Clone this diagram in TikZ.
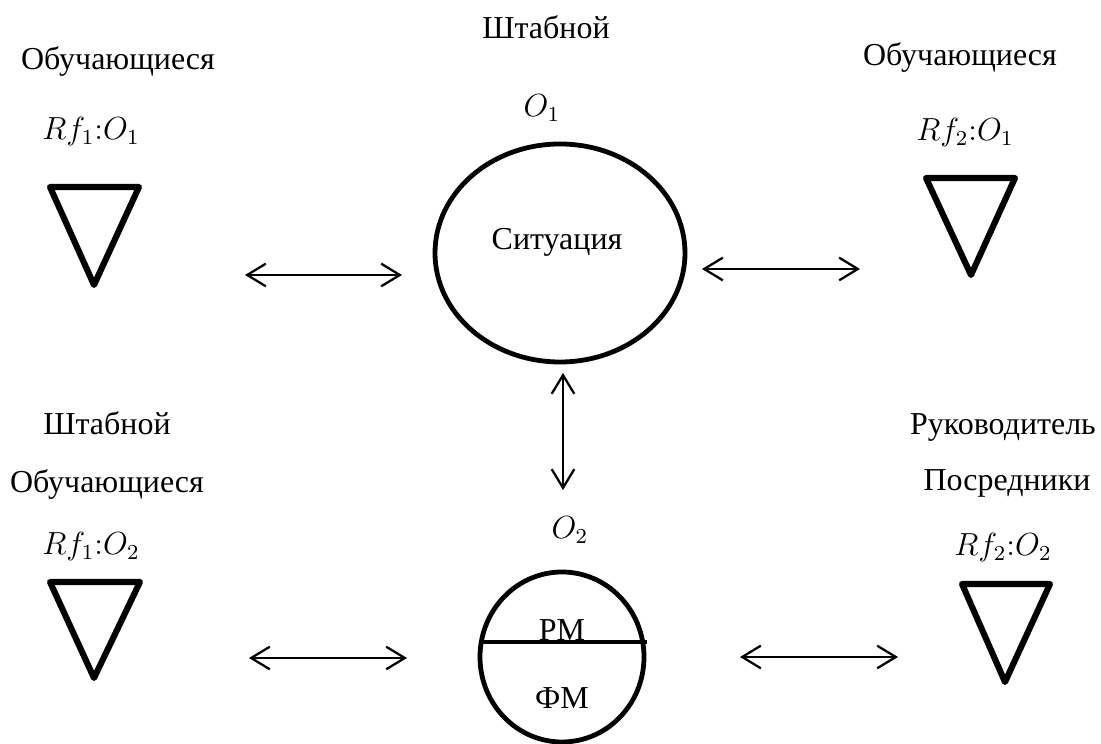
\documentclass[tikz,border=0pt]{standalone}
\usepackage{fontspec}
\setmainfont{Liberation Serif}
\usetikzlibrary{arrows.meta, positioning}
\tikzset{
    label_text/.style={inner sep=0pt, text centered, align=center, font=\fontsize{12}{14}\selectfont},
    math_text/.style={inner sep=0pt, text centered, font=\fontsize{11.5}{14}\selectfont},
    tri_mark/.style={line width=2.3pt, line join=round},
    sit_circle/.style={line width=1.8pt},
    split_line/.style={line width=1.3pt},
    arrow/.style={line width=0.85pt, {Straight Barb[length=7pt, width=8.5pt]}-{Straight Barb[length=7pt, width=8.5pt]}},
}

\begin{document}
\begin{tikzpicture}[x=0.0132cm, y=-0.0132cm]
      \useasboundingbox (0,0) rectangle (1101,744);
      %%%%%%%%%%%%%
      % SITUATION %
      %%%%%%%%%%%%%
      \node (staff_top) [label_text] at (546,27) {Штабной};
      \node (obj_1) [math_text] at (542,108) {$O_1$};
      \draw [sit_circle] (560,253) ellipse [x radius=125, y radius=109];
      \node (situation) [label_text] at (557,242) {Ситуация};

      %%%%%%%%%%%%%
      % MODELS    %
      %%%%%%%%%%%%%
      \node (obj_2) [math_text] at (570,530) {$O_2$};
      \draw [sit_circle] (562,657) ellipse [x radius=82, y radius=85];
      \coordinate (split_l) at (483,642);
      \coordinate (split_r) at (647,642);
      \draw [split_line] (split_l) -- (split_r);
      \node (model_rm) [label_text] at (562,630) {РМ};
      \node (model_fm) [label_text] at (562,698) {ФМ};

      %%%%%%%%%%%%%
      % LEARNERS  %
      %%%%%%%%%%%%%
      \node (learn_A_1) [label_text] at (118,62) {Обучающиеся};
      \node (rf_A_1) [math_text] at (91,132) {$Rf_1{:}O_1$};
      \draw [tri_mark] (50,187) -- (139,187) -- (94,285) -- cycle;

      \node (learn_B_1) [label_text] at (960,58) {Обучающиеся};
      \node (rf_B_1) [math_text] at (965,133) {$Rf_2{:}O_1$};
      \draw [tri_mark] (926,178) -- (1015,178) -- (971,275) -- cycle;

      \node (staff_A_2) [label_text] at (107,423) {Штабной};
      \node (learn_A_2) [label_text] at (107,485) {Обучающиеся};
      \node (rf_A_2) [math_text] at (91,547) {$Rf_1{:}O_2$};
      \draw [tri_mark] (50,582) -- (140,582) -- (94,678) -- cycle;

      \node (head_B_2) [label_text] at (1003,427) {Руководитель};
      \node (med_B_2) [label_text] at (1007,483) {Посредники};
      \node (rf_B_2) [math_text] at (1003,548) {$Rf_2{:}O_2$};
      \draw [tri_mark] (962,584) -- (1050,584) -- (1005,682) -- cycle;

      %%%%%%%%%%%%%
      % LINKS     %
      %%%%%%%%%%%%%
      \coordinate (link_A_1a) at (245,275);
      \coordinate (link_A_1b) at (402,275);
      \coordinate (link_B_1a) at (702,269);
      \coordinate (link_B_1b) at (860,269);
      \coordinate (link_mid_a) at (563,373);
      \coordinate (link_mid_b) at (563,490);
      \coordinate (link_A_2a) at (249,658);
      \coordinate (link_A_2b) at (407,658);
      \coordinate (link_B_2a) at (740,657);
      \coordinate (link_B_2b) at (898,657);

      \draw [arrow] (link_A_1a) -- (link_A_1b);
      \draw [arrow] (link_B_1a) -- (link_B_1b);
      \draw [arrow] (link_mid_a) -- (link_mid_b);
      \draw [arrow] (link_A_2a) -- (link_A_2b);
      \draw [arrow] (link_B_2a) -- (link_B_2b);
\end{tikzpicture}
\end{document}
